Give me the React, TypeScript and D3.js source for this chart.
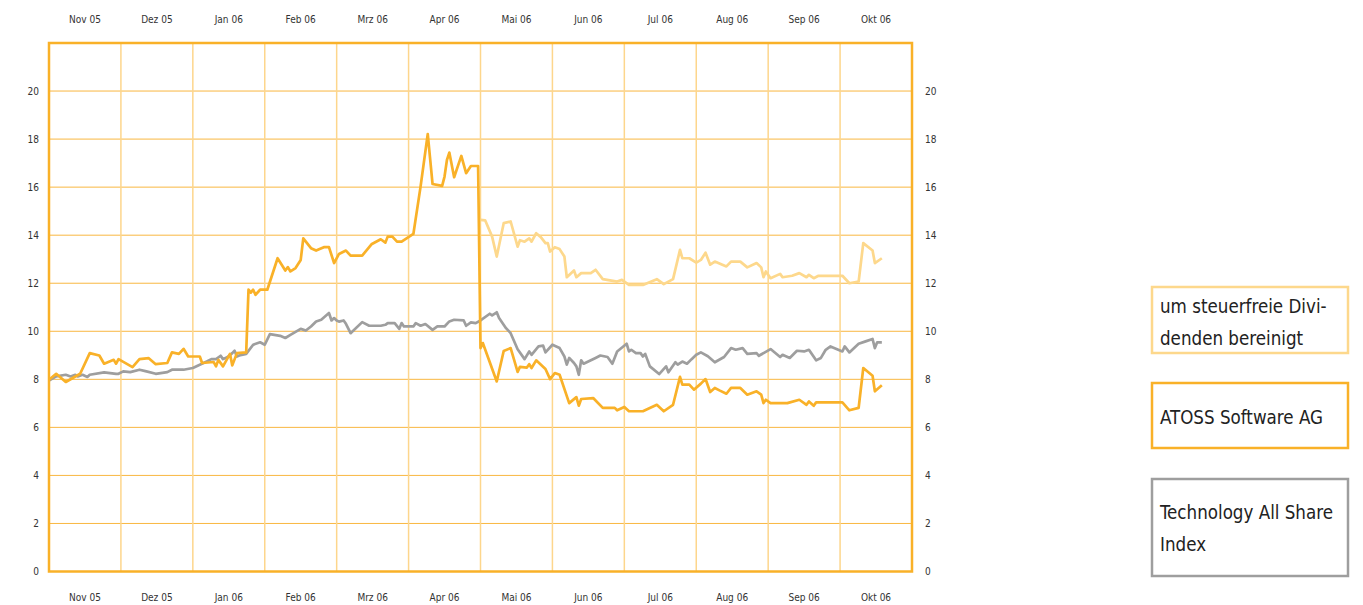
import React from 'react';
import * as d3 from 'd3';

// month bands of the x axis
const months = ['Nov 05', 'Dez 05', 'Jan 06', 'Feb 06', 'Mrz 06', 'Apr 06', 'Mai 06', 'Jun 06', 'Jul 06', 'Aug 06', 'Sep 06', 'Okt 06'];
const yTicks = [0, 2, 4, 6, 8, 10, 12, 14, 16, 18, 20];

const atoss: [string, number][] = [
  ['2005-11-01', 7.98], ['2005-11-04', 8.23], ['2005-11-08', 7.89], ['2005-11-14', 8.23], ['2005-11-18', 9.09], ['2005-11-22', 8.99], ['2005-11-24', 8.65], ['2005-11-28', 8.81], ['2005-11-29', 8.65], ['2005-11-30', 8.84],
  ['2005-12-06', 8.51], ['2005-12-09', 8.84], ['2005-12-13', 8.88], ['2005-12-16', 8.63], ['2005-12-21', 8.68], ['2005-12-23', 9.12], ['2005-12-26', 9.06], ['2005-12-28', 9.27], ['2005-12-30', 8.95],
  ['2006-01-04', 8.95], ['2006-01-05', 8.68], ['2006-01-10', 8.72], ['2006-01-11', 8.54], ['2006-01-12', 8.81], ['2006-01-14', 8.54], ['2006-01-17', 9.06], ['2006-01-18', 8.58], ['2006-01-20', 9.09], ['2006-01-24', 9.12], ['2006-01-25', 11.73], ['2006-01-26', 11.61], ['2006-01-27', 11.73], ['2006-01-28', 11.52], ['2006-01-30', 11.73],
  ['2006-02-02', 11.73], ['2006-02-06', 13.04], ['2006-02-09', 12.53], ['2006-02-10', 12.67], ['2006-02-11', 12.49], ['2006-02-13', 12.63], ['2006-02-15', 12.97], ['2006-02-16', 13.87], ['2006-02-19', 13.46], ['2006-02-21', 13.36], ['2006-02-24', 13.5], ['2006-02-26', 13.5], ['2006-02-28', 12.84],
  ['2006-03-02', 13.22], ['2006-03-05', 13.36], ['2006-03-07', 13.15], ['2006-03-12', 13.15], ['2006-03-16', 13.62], ['2006-03-20', 13.83], ['2006-03-22', 13.69], ['2006-03-23', 13.94], ['2006-03-25', 13.94], ['2006-03-27', 13.73], ['2006-03-29', 13.73],
  ['2006-04-03', 14.05], ['2006-04-06', 16.02], ['2006-04-09', 18.21], ['2006-04-11', 16.13], ['2006-04-15', 16.05], ['2006-04-16', 16.44], ['2006-04-17', 17.13], ['2006-04-18', 17.44], ['2006-04-20', 16.41], ['2006-04-23', 17.3], ['2006-04-25', 16.58], ['2006-04-27', 16.88], ['2006-04-30', 16.88],
  ['2006-05-01', 9.3], ['2006-05-02', 9.51], ['2006-05-08', 7.91], ['2006-05-11', 9.18], ['2006-05-14', 9.3], ['2006-05-17', 8.31], ['2006-05-18', 8.52], ['2006-05-21', 8.49], ['2006-05-22', 8.63], ['2006-05-23', 8.47], ['2006-05-25', 8.79], ['2006-05-29', 8.43], ['2006-05-31', 8.01],
  ['2006-06-02', 8.26], ['2006-06-04', 8.19], ['2006-06-08', 7.01], ['2006-06-11', 7.26], ['2006-06-12', 6.9], ['2006-06-13', 7.18], ['2006-06-18', 7.22], ['2006-06-22', 6.81], ['2006-06-27', 6.81], ['2006-06-28', 6.71],
  ['2006-07-01', 6.85], ['2006-07-03', 6.67], ['2006-07-09', 6.67], ['2006-07-15', 6.94], ['2006-07-18', 6.67], ['2006-07-22', 6.94], ['2006-07-25', 8.1], ['2006-07-26', 7.78], ['2006-07-29', 7.78], ['2006-07-31', 7.57],
  ['2006-08-03', 7.82], ['2006-08-05', 8.01], ['2006-08-07', 7.47], ['2006-08-09', 7.64], ['2006-08-11', 7.54], ['2006-08-14', 7.4], ['2006-08-16', 7.64], ['2006-08-20', 7.64], ['2006-08-23', 7.36], ['2006-08-27', 7.5], ['2006-08-29', 7.36], ['2006-08-30', 7.01], ['2006-08-31', 7.15],
  ['2006-09-02', 7.01], ['2006-09-09', 7.01], ['2006-09-14', 7.15], ['2006-09-17', 6.94], ['2006-09-18', 7.08], ['2006-09-20', 6.9], ['2006-09-21', 7.04],
  ['2006-10-02', 7.04], ['2006-10-05', 6.71], ['2006-10-09', 6.81], ['2006-10-11', 8.47], ['2006-10-15', 8.15], ['2006-10-16', 7.5], ['2006-10-19', 7.75],
];

// adjusted for the tax free dividend
const adjusted: [string, number][] = [
  ['2006-05-01', 14.64], ['2006-05-03', 14.62], ['2006-05-06', 13.94], ['2006-05-08', 13.11], ['2006-05-11', 14.5], ['2006-05-14', 14.57], ['2006-05-17', 13.52], ['2006-05-18', 13.79], ['2006-05-20', 13.73], ['2006-05-22', 13.87], ['2006-05-23', 13.73], ['2006-05-25', 14.08], ['2006-05-27', 13.92], ['2006-05-29', 13.67], ['2006-05-30', 13.67], ['2006-05-31', 13.32],
  ['2006-06-02', 13.5], ['2006-06-04', 13.42], ['2006-06-06', 13.11], ['2006-06-07', 12.25], ['2006-06-10', 12.53], ['2006-06-11', 12.25], ['2006-06-13', 12.42], ['2006-06-17', 12.42], ['2006-06-19', 12.56], ['2006-06-22', 12.17], ['2006-06-28', 12.07], ['2006-06-30', 12.14],
  ['2006-07-03', 11.93], ['2006-07-09', 11.93], ['2006-07-15', 12.17], ['2006-07-18', 11.96], ['2006-07-22', 12.17], ['2006-07-25', 13.39], ['2006-07-26', 13.04], ['2006-07-29', 13.04],
  ['2006-08-01', 12.86], ['2006-08-03', 12.97], ['2006-08-05', 13.27], ['2006-08-07', 12.77], ['2006-08-09', 12.9], ['2006-08-14', 12.7], ['2006-08-16', 12.9], ['2006-08-20', 12.9], ['2006-08-23', 12.66], ['2006-08-27', 12.84], ['2006-08-29', 12.66], ['2006-08-30', 12.25], ['2006-08-31', 12.49],
  ['2006-09-02', 12.21], ['2006-09-06', 12.39], ['2006-09-07', 12.25], ['2006-09-11', 12.31], ['2006-09-14', 12.42], ['2006-09-17', 12.25], ['2006-09-18', 12.35], ['2006-09-20', 12.21], ['2006-09-22', 12.31],
  ['2006-10-02', 12.31], ['2006-10-05', 12.0], ['2006-10-09', 12.07], ['2006-10-11', 13.67], ['2006-10-15', 13.36], ['2006-10-16', 12.84], ['2006-10-19', 13.04],
];

const techIndex: [string, number][] = [
  ['2005-11-01', 7.95], ['2005-11-04', 8.12], ['2005-11-08', 8.19], ['2005-11-10', 8.12], ['2005-11-12', 8.19], ['2005-11-13', 8.12], ['2005-11-15', 8.19], ['2005-11-17', 8.1], ['2005-11-18', 8.19], ['2005-11-24', 8.29], ['2005-11-29', 8.23], ['2005-11-30', 8.23],
  ['2005-12-02', 8.33], ['2005-12-05', 8.3], ['2005-12-09', 8.4], ['2005-12-12', 8.33], ['2005-12-16', 8.23], ['2005-12-21', 8.3], ['2005-12-23', 8.4], ['2005-12-28', 8.4],
  ['2006-01-01', 8.47], ['2006-01-04', 8.61], ['2006-01-07', 8.74], ['2006-01-09', 8.84], ['2006-01-11', 8.84], ['2006-01-13', 8.98], ['2006-01-14', 8.84], ['2006-01-16', 8.93], ['2006-01-18', 9.09], ['2006-01-19', 9.19], ['2006-01-20', 8.95], ['2006-01-21', 8.99], ['2006-01-24', 9.06], ['2006-01-27', 9.44], ['2006-01-30', 9.54],
  ['2006-02-01', 9.44], ['2006-02-03', 9.88], ['2006-02-07', 9.81], ['2006-02-09', 9.72], ['2006-02-11', 9.85], ['2006-02-15', 10.1], ['2006-02-17', 10.03], ['2006-02-19', 10.2], ['2006-02-21', 10.41], ['2006-02-23', 10.48], ['2006-02-26', 10.76], ['2006-02-27', 10.45], ['2006-02-28', 10.55],
  ['2006-03-01', 10.45], ['2006-03-02', 10.4], ['2006-03-04', 10.45], ['2006-03-05', 10.31], ['2006-03-07', 9.92], ['2006-03-12', 10.38], ['2006-03-15', 10.23], ['2006-03-20', 10.23], ['2006-03-22', 10.27], ['2006-03-23', 10.34], ['2006-03-26', 10.34], ['2006-03-28', 10.1], ['2006-03-29', 10.34], ['2006-03-30', 10.2],
  ['2006-04-03', 10.2], ['2006-04-04', 10.34], ['2006-04-06', 10.23], ['2006-04-08', 10.3], ['2006-04-11', 10.06], ['2006-04-13', 10.2], ['2006-04-16', 10.2], ['2006-04-18', 10.41], ['2006-04-20', 10.48], ['2006-04-24', 10.45], ['2006-04-25', 10.23], ['2006-04-27', 10.37], ['2006-04-29', 10.34],
  ['2006-05-01', 10.45], ['2006-05-05', 10.73], ['2006-05-06', 10.66], ['2006-05-08', 10.79], ['2006-05-09', 10.55], ['2006-05-12', 10.13], ['2006-05-14', 9.92], ['2006-05-17', 9.25], ['2006-05-20', 8.84], ['2006-05-22', 9.16], ['2006-05-23', 9.02], ['2006-05-26', 9.37], ['2006-05-28', 9.4], ['2006-05-29', 9.12],
  ['2006-06-01', 9.44], ['2006-06-04', 9.3], ['2006-06-06', 8.95], ['2006-06-07', 8.61], ['2006-06-08', 8.89], ['2006-06-10', 8.68], ['2006-06-11', 8.54], ['2006-06-12', 8.19], ['2006-06-13', 8.79], ['2006-06-14', 8.65], ['2006-06-19', 8.89], ['2006-06-21', 8.99], ['2006-06-24', 8.93], ['2006-06-26', 8.65], ['2006-06-28', 9.16],
  ['2006-07-02', 9.48], ['2006-07-03', 9.16], ['2006-07-04', 9.23], ['2006-07-06', 9.09], ['2006-07-08', 9.09], ['2006-07-09', 8.95], ['2006-07-10', 9.06], ['2006-07-12', 8.54], ['2006-07-16', 8.22], ['2006-07-19', 8.54], ['2006-07-20', 8.29], ['2006-07-23', 8.71], ['2006-07-24', 8.61], ['2006-07-26', 8.74], ['2006-07-28', 8.65], ['2006-07-30', 8.84],
  ['2006-08-01', 9.02], ['2006-08-03', 9.12], ['2006-08-06', 8.96], ['2006-08-09', 8.71], ['2006-08-13', 8.93], ['2006-08-16', 9.3], ['2006-08-18', 9.23], ['2006-08-21', 9.3], ['2006-08-23', 9.06], ['2006-08-27', 9.09], ['2006-08-28', 8.98],
  ['2006-09-02', 9.26], ['2006-09-06', 8.93], ['2006-09-07', 9.02], ['2006-09-10', 8.89], ['2006-09-13', 9.19], ['2006-09-16', 9.16], ['2006-09-18', 9.23], ['2006-09-21', 8.79], ['2006-09-23', 8.89], ['2006-09-25', 9.23], ['2006-09-27', 9.37],
  ['2006-10-02', 9.16], ['2006-10-03', 9.37], ['2006-10-05', 9.12], ['2006-10-09', 9.48], ['2006-10-12', 9.58], ['2006-10-15', 9.68], ['2006-10-16', 9.3], ['2006-10-17', 9.54], ['2006-10-19', 9.54],
];

const legend = [
  { lines: ['um steuerfreie Divi-', 'denden bereinigt'], color: '#FDD88C' },
  { lines: ['ATOSS Software AG'], color: '#F9B128' },
  { lines: ['Technology All Share', 'Index'], color: '#9E9E9E' },
];

const ORANGE = '#F9B128';
const LIGHT = '#FDD88C';
const GREY = '#9E9E9E';
const FONT = "'DejaVu Sans Condensed', 'Liberation Sans Narrow', sans-serif";

const parse = d3.timeParse('%Y-%m-%d');

const App: React.FC = () => {
  const left = 49, right = 912, top = 43, bottom = 571.5;

  const band = d3.scaleBand<number>().domain(d3.range(months.length)).range([left, right]).padding(0);
  const y = d3.scaleLinear().domain([0, 22]).range([bottom, top]);

  // position inside the month band, by day of month
  const xOf = (s: string) => {
    const d = parse(s)!;
    const idx = (d.getFullYear() - 2005) * 12 + d.getMonth() - 10;
    const dim = new Date(d.getFullYear(), d.getMonth() + 1, 0).getDate();
    return (band(idx) as number) + band.bandwidth() * (d.getDate() - 1) / dim;
  };

  const line = d3.line<[string, number]>().x(d => xOf(d[0])).y(d => y(d[1]));

  // legend box top / height / first baseline offset
  const boxes = [[287, 66, 26], [383, 65, 41], [479, 97, 40]];

  return (
    <svg width={1363} height={605} style={{ position: 'absolute', left: 0, top: 0, background: '#fff' }}>
      {/* horizontal grid */}
      {yTicks.filter(t => t > 0).map(t => (
        <line key={'h' + t} x1={left} x2={right} y1={y(t)} y2={y(t)} stroke="#F9B740" strokeWidth={1} />
      ))}
      {/* vertical grid at month starts */}
      {months.slice(1).map((m, i) => (
        <line key={'v' + m} x1={band(i + 1)} x2={band(i + 1)} y1={top} y2={bottom} stroke="#FDD68C" strokeWidth={1.5} />
      ))}

      <path d={line(techIndex) || ''} fill="none" stroke={GREY} strokeWidth={2.7} strokeLinejoin="round" />
      <path d={line(adjusted) || ''} fill="none" stroke={LIGHT} strokeWidth={2.7} strokeLinejoin="round" />
      <path d={line(atoss) || ''} fill="none" stroke={ORANGE} strokeWidth={2.7} strokeLinejoin="round" />

      <rect x={left} y={top} width={right - left} height={bottom - top} fill="none" stroke={ORANGE} strokeWidth={2.5} />

      {/* month labels top and bottom */}
      {months.map((m, i) => (
        <g key={m} fontFamily={FONT} fontSize={10} fill="#333" textAnchor="middle">
          <text x={(band(i) as number) + band.bandwidth() / 2} y={23}>{m}</text>
          <text x={(band(i) as number) + band.bandwidth() / 2} y={601}>{m}</text>
        </g>
      ))}

      {/* value labels left and right */}
      {yTicks.map(t => (
        <g key={'y' + t} fontFamily={FONT} fontSize={10} fill="#333" dominantBaseline="central">
          <text x={39} y={y(t)} textAnchor="end">{t}</text>
          <text x={925} y={y(t)} textAnchor="start">{t}</text>
        </g>
      ))}

      {/* legend */}
      {legend.map((l, i) => {
        const [by, bh, b0] = boxes[i];
        return (
          <g key={'l' + i}>
            <rect x={1152} y={by} width={196} height={bh} fill="#fff" stroke={l.color} strokeWidth={2.5} />
            {l.lines.map((t, j) => (
              <text key={j} x={1160} y={by + b0 + j * 31.5} fontFamily={FONT} fontSize={18.6} fill="#222">{t}</text>
            ))}
          </g>
        );
      })}
    </svg>
  );
};

export default App;
